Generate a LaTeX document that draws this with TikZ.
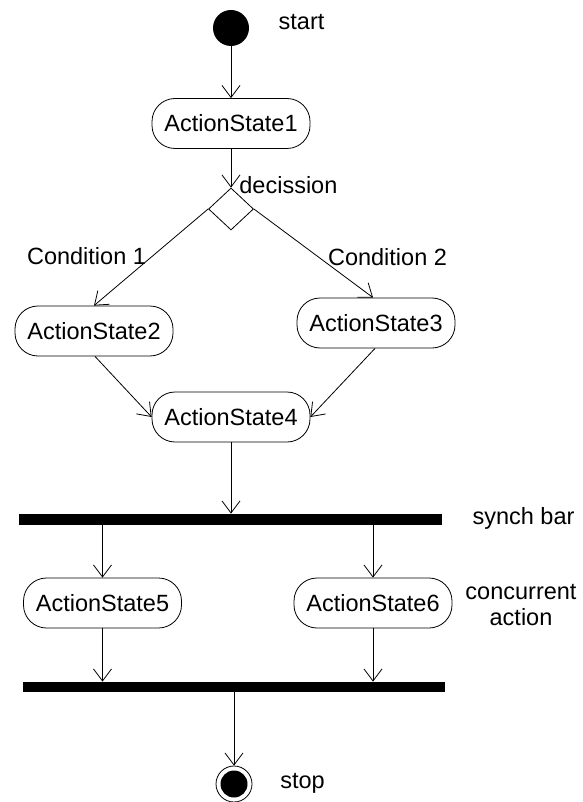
\documentclass[tikz,border=0pt]{standalone}
\usepackage{fontspec}
\setmainfont{Liberation Sans}
\usetikzlibrary{arrows.meta,shapes.geometric}
\begin{document}
\begin{tikzpicture}[x=1pt,y=-1pt,
  font=\fontsize{23.5}{26}\selectfont,
  line width=0.8pt,
  flow/.style={-{Straight Barb[length=12pt,width=18pt,line width=0.8pt]}},
  actstate/.style={draw, rounded corners=23pt, minimum width=158pt, minimum height=50pt, inner sep=0pt},
  syncbar/.style={fill=black, inner sep=0pt},
  lbl/.style={inner sep=0pt}
]
\useasboundingbox (0,0) rectangle (582,802);

\node[circle, fill=black, minimum size=36pt, inner sep=0pt] (start) at (231,28) {};
\node[lbl] (startl) at (301.5,22) {start};

\node[actstate] (as1) at (231,123.5) {ActionState1};
\node[draw, diamond, minimum width=45pt, minimum height=42pt, inner sep=0pt] (dec) at (231,209) {};
\node[lbl, anchor=west] (decl) at (239,185) {decission};

\node[actstate] (as2) at (94,331) {ActionState2};
\node[actstate] (as3) at (376,323) {ActionState3};
\node[lbl] (c1) at (86.5,256) {Condition 1};
\node[lbl] (c2) at (387.5,257) {Condition 2};

\node[actstate] (as4) at (231,417) {ActionState4};

\node[syncbar, minimum width=423pt, minimum height=11pt] (bar1) at (230.5,519.5) {};
\node[lbl] (synl) at (523.5,518) {synch bar};

\node[actstate] (as5) at (102.5,603) {ActionState5};
\node[actstate] (as6) at (373,603) {ActionState6};
\node[lbl, align=center] (concl) at (521,605) {concurrent\\action};

\node[syncbar, minimum width=422pt, minimum height=10pt] (bar2) at (234,687) {};

\node[circle, draw, minimum size=36pt, inner sep=0pt,
  path picture={\fill[black] (path picture bounding box.center) circle (13.5pt);}] (stop) at (234,784) {};
\node[lbl] (stopl) at (302.5,783) {stop};

\draw[flow] (start) -- (as1);
\draw[flow] (as1) -- (dec.north);
\draw[flow] (dec.west) -- (as2.north);
\draw[flow] (dec.east) -- ([xshift=-3pt]as3.north);
\draw[flow] ([xshift=1pt]as2.south) -- (as4.west);
\draw[flow] ([xshift=-1pt]as3.south) -- (as4.east);
\draw[flow] (as4.south) -- (as4.south |- bar1.north);
\draw[flow] (bar1.south -| as5.north) -- (as5.north);
\draw[flow] (bar1.south -| as6.north) -- (as6.north);
\draw[flow] (as5.south) -- (as5.south |- bar2.north);
\draw[flow] (as6.south) -- (as6.south |- bar2.north);
\draw[flow] (bar2.south -| stop.north) -- (stop.north);
\end{tikzpicture}
\end{document}
